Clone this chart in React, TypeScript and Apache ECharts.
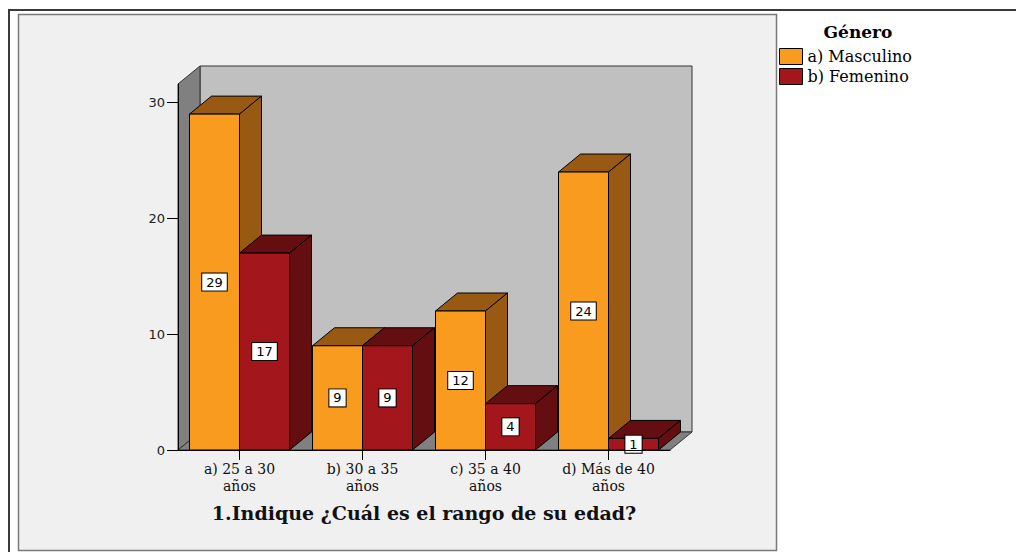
import React, { useEffect, useRef } from 'react';
import * as echarts from 'echarts';

const categories = ['a) 25 a 30\naños', 'b) 30 a 35\naños', 'c) 35 a 40\naños', 'd) Más de 40\naños'];
const seriesNames = ['a) Masculino', 'b) Femenino'];
const masculino = [29, 9, 12, 24];
const femenino = [17, 9, 4, 1];
const yTicks = [0, 10, 20, 30];
const yMax = 31.6;
const axisTitle = '1.Indique ¿Cuál es el rango de su edad?';
const legendTitle = 'Género';

const COLORS = [
  { front: '#F99B1E', dark: '#985A12' },
  { front: '#A3161B', dark: '#640E11' },
];
const DX = 22;
const DY = -18;
const BAR_RATIO = 50 / 123;

function makeBarRenderer(seriesIdx: number) {
  return (params: any, api: any) => {
    const cat = api.value(0);
    const val = api.value(1);
    const base = api.coord([cat, 0]);
    const top = api.coord([cat, val]);
    const band = api.size([1, 0])[0];
    const w = band * BAR_RATIO;
    const x0 = seriesIdx === 0 ? base[0] - w : base[0];
    const y0 = top[1];
    const yb = base[1];
    const c = COLORS[seriesIdx];
    const st = { stroke: '#000', lineWidth: 1, lineJoin: 'round' };
    return {
      type: 'group',
      children: [
        {
          type: 'polygon',
          shape: { points: [[x0, y0], [x0 + DX, y0 + DY], [x0 + w + DX, y0 + DY], [x0 + w, y0]] },
          style: { fill: c.dark, ...st },
        },
        {
          type: 'polygon',
          shape: { points: [[x0 + w, y0], [x0 + w + DX, y0 + DY], [x0 + w + DX, yb + DY], [x0 + w, yb]] },
          style: { fill: c.dark, ...st },
        },
        {
          type: 'rect',
          shape: { x: x0, y: y0, width: w, height: yb - y0 },
          style: { fill: c.front, ...st },
        },
        {
          type: 'text',
          x: x0 + w / 2,
          y: (y0 + yb) / 2,
          z2: 10,
          style: {
            text: String(val),
            align: 'center',
            verticalAlign: 'middle',
            font: '13px "DejaVu Sans"',
            fill: '#000',
            backgroundColor: '#fff',
            borderColor: '#000',
            borderWidth: 1,
            padding: [2, 4, 2, 4],
          },
        },
      ],
    };
  };
}

function wallsRenderer(params: any) {
  const cs = params.coordSys;
  const x = cs.x, y = cs.y, w = cs.width, h = cs.height;
  const st = { stroke: '#333', lineWidth: 1 };
  return {
    type: 'group',
    children: [
      {
        type: 'rect',
        shape: { x: x + DX, y: y + DY, width: w, height: h },
        style: { fill: '#C0C0C0', ...st },
      },
      {
        type: 'polygon',
        shape: { points: [[x, y], [x + DX, y + DY], [x + DX, y + h + DY], [x, y + h]] },
        style: { fill: '#808080', ...st },
      },
      {
        type: 'polygon',
        shape: { points: [[x, y + h], [x + DX, y + h + DY], [x + w + DX, y + h + DY], [x + w, y + h]] },
        style: { fill: '#808080', ...st },
      },
    ],
  };
}

export default function App() {
  const ref = useRef<HTMLDivElement>(null);
  useEffect(() => {
    if (!ref.current) return;
    const chart = echarts.init(ref.current, null, { renderer: 'svg' });
    chart.setOption({
      animation: false,
      backgroundColor: '#fff',
      graphic: [
        {
          type: 'rect',
          z: -10,
          shape: { x: 9, y: 10, width: 1100, height: 600 },
          style: { fill: '#fff', stroke: '#3a3a3a', lineWidth: 2 },
        },
        {
          type: 'rect',
          z: -9,
          shape: { x: 18.5, y: 14.5, width: 758, height: 536 },
          style: { fill: '#F0F0F0', stroke: '#7a7a7a', lineWidth: 1.5 },
        },
        {
          type: 'text',
          x: 858,
          y: 32,
          style: {
            text: legendTitle,
            align: 'center',
            verticalAlign: 'middle',
            font: 'bold 17px "DejaVu Serif"',
            fill: '#000',
          },
        },
      ],
      legend: {
        orient: 'vertical',
        left: 779,
        top: 48,
        padding: 0,
        itemWidth: 23,
        itemHeight: 16,
        itemGap: 3,
        icon: 'rect',
        data: seriesNames,
        itemStyle: { borderColor: '#000', borderWidth: 1 },
        textStyle: { fontFamily: '"DejaVu Serif"', fontSize: 16, color: '#000' },
      },
      grid: {
        left: 178,
        right: 346,
        top: 84,
        bottom: 102,
        containLabel: false,
        outerBoundsMode: 'none',
      },
      xAxis: {
        type: 'category',
        data: categories,
        z: 5,
        axisLine: { show: true, lineStyle: { color: '#000', width: 1 } },
        axisTick: { show: true, alignWithLabel: true, length: 10, lineStyle: { color: '#000' } },
        axisLabel: {
          margin: 10,
          fontFamily: '"DejaVu Serif"',
          fontSize: 14,
          lineHeight: 17,
          color: '#111',
          interval: 0,
        },
        name: axisTitle,
        nameLocation: 'middle',
        nameGap: 53,
        nameTextStyle: { fontFamily: '"DejaVu Serif"', fontWeight: 'bold', fontSize: 19, color: '#111' },
      },
      yAxis: {
        type: 'value',
        min: 0,
        max: yMax,
        interval: 10,
        z: 5,
        splitLine: { show: false },
        axisLine: { show: true, lineStyle: { color: '#000', width: 1 } },
        axisTick: { show: true, length: 11, lineStyle: { color: '#000' }, customValues: yTicks },
        axisLabel: {
          margin: 13,
          fontFamily: '"DejaVu Sans"',
          fontSize: 13,
          color: '#222',
          customValues: yTicks,
        },
      },
      series: [
        {
          type: 'custom',
          name: 'walls',
          z: 1,
          silent: true,
          data: [[0, 0]],
          renderItem: wallsRenderer,
        },
        {
          type: 'custom',
          name: seriesNames[0],
          z: 2,
          itemStyle: { color: COLORS[0].front, borderColor: '#000', borderWidth: 1 },
          encode: { x: 0, y: 1 },
          data: masculino.map((v, i) => [i, v]),
          renderItem: makeBarRenderer(0),
        },
        {
          type: 'custom',
          name: seriesNames[1],
          z: 3,
          itemStyle: { color: COLORS[1].front, borderColor: '#000', borderWidth: 1 },
          encode: { x: 0, y: 1 },
          data: femenino.map((v, i) => [i, v]),
          renderItem: makeBarRenderer(1),
        },
      ],
    });
    return () => chart.dispose();
  }, []);
  return (
    <div
      ref={ref}
      style={{ position: 'fixed', left: 0, top: 0, width: 1016, height: 552 }}
    />
  );
}
